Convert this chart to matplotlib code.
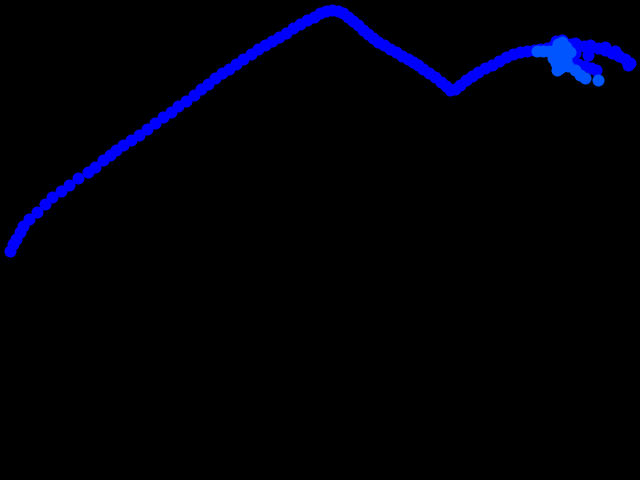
import matplotlib
matplotlib.use("Agg")
import matplotlib.pyplot as plt

# main track (pixel-like units, y grows downwards)
track_x = [10, 13, 16, 20, 23, 29, 37, 45, 52, 61, 69, 78, 88, 95, 103, 110, 116, 123,
           131, 139, 147, 155, 163, 171, 178, 186, 194, 201, 208, 215, 222, 229, 236,
           243, 251, 258, 265, 272, 279, 286, 293, 300, 307, 314, 320, 326, 332, 338,
           343, 348, 353, 358, 363, 368, 373, 378, 384, 390, 396, 402, 408, 413, 418,
           423, 429, 435, 441, 446, 450, 455, 460, 466, 472, 478, 485, 492, 499, 506,
           513, 520, 527, 534, 540, 547, 553, 558, 563, 570, 577, 584, 591, 598, 605,
           612, 619, 625, 630, 628, 565, 572, 578, 585, 591, 596,
           556, 562, 575, 590, 605, 615, 575, 588]
track_y = [251, 244, 239, 232, 226, 219, 212, 204, 197, 191, 185, 178, 172, 167, 160, 155,
           150, 145, 140, 135, 129, 123, 117, 112, 106, 101, 95, 89, 84, 78, 73, 69, 64,
           59, 54, 49, 45, 41, 37, 33, 28, 24, 20, 17, 13, 11, 10, 11, 13, 17, 21, 25, 30,
           34, 38, 42, 45, 49, 52, 56, 59, 62, 65, 69, 73, 77, 82, 86, 90, 89, 85, 80, 76,
           72, 68, 65, 61, 57, 54, 52, 51, 50, 49, 48, 46, 44, 43, 44, 45, 46, 47, 48, 50,
           53, 56, 59, 63, 65, 58, 62, 64, 66, 68, 70,
           41, 40, 43, 45, 47, 51, 53, 55]

# lighter cluster at the end
cluster_x = [537, 543, 549, 555, 558, 562, 566, 561, 556, 560, 566, 570, 568, 575, 580,
             585, 598, 553, 565, 557]
cluster_y = [51, 51, 51, 50, 44, 42, 47, 55, 63, 68, 60, 52, 66, 70, 75, 78, 80, 58, 65, 70]

fig = plt.figure(figsize=(6.4, 4.8), dpi=100, facecolor="black")
ax = fig.add_axes([0, 0, 1, 1])
ax.set_facecolor("black")
ax.scatter(track_x, track_y, s=75, color="#0000ff", linewidths=0)
ax.scatter(cluster_x, cluster_y, s=75, color="#0055ff", linewidths=0)
ax.set_xlim(0, 640)
ax.set_ylim(480, 0)
ax.axis("off")

fig.savefig("out.png", facecolor="black")
